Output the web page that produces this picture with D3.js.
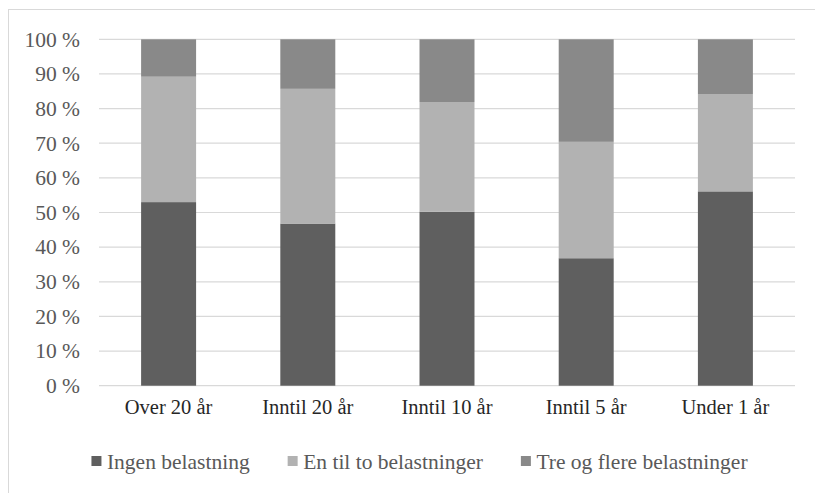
<!DOCTYPE html>
<html><head><meta charset="utf-8">
<script src="https://cdn.jsdelivr.net/npm/d3@7/dist/d3.min.js"></script>
<style>
html,body{margin:0;padding:0;background:#fff;}
svg{display:block;}
text{font-family:"Liberation Serif","Times New Roman",serif;}
</style></head>
<body>
<svg id="chart" width="815" height="493"></svg>
<script>
const categories = ["Over 20 år", "Inntil 20 år", "Inntil 10 år", "Inntil 5 år", "Under 1 år"];
const seriesNames = ["Ingen belastning", "En til to belastninger", "Tre og flere belastninger"];
const ingenBelastning = [53.0, 46.8, 50.2, 36.8, 56.1];
const enTilTo = [36.2, 38.9, 31.7, 33.6, 28.1];
const treOgFlere = [10.8, 14.3, 18.1, 29.6, 15.8];
const yTicks = [0, 10, 20, 30, 40, 50, 60, 70, 80, 90, 100];
const colors = ["#5f5f5f", "#b2b2b2", "#898989"];

const svg = d3.select("#chart");
const plotLeft = 99, plotRight = 795, plotTop = 39.3, plotBottom = 385.7;

// chart border (cropped by image)
svg.append("rect").attr("x", 8.5).attr("y", 9.5).attr("width", 900).attr("height", 600)
  .attr("fill", "none").attr("stroke", "#d9d9d9").attr("stroke-width", 1);

const x = d3.scaleBand().domain(categories).range([plotLeft, plotRight]).paddingInner(0.605).paddingOuter(0.3025);
const y = d3.scaleLinear().domain([0, 100]).range([plotBottom, plotTop]);

// gridlines
svg.append("g").selectAll("line").data(yTicks).join("line")
  .attr("x1", plotLeft).attr("x2", plotRight)
  .attr("y1", d => y(d)).attr("y2", d => y(d))
  .attr("stroke", "#d9d9d9").attr("stroke-width", 1.2);

// y labels
svg.append("g").selectAll("text").data(yTicks).join("text")
  .attr("x", 80).attr("y", d => y(d)).attr("dy", "0.34em")
  .attr("text-anchor", "end").attr("fill", "#595959").attr("font-size", 21.5)
  .text(d => d + " %");

// stacked data
const rows = categories.map((c, i) => ({cat: c, s0: ingenBelastning[i], s1: enTilTo[i], s2: treOgFlere[i]}));
const stack = d3.stack().keys(["s0", "s1", "s2"])(rows);

svg.append("g").selectAll("g").data(stack).join("g")
  .attr("fill", (d, i) => colors[i])
  .selectAll("rect").data(d => d).join("rect")
  .attr("x", d => x(d.data.cat))
  .attr("width", x.bandwidth())
  .attr("y", d => y(d[1]))
  .attr("height", d => y(d[0]) - y(d[1]));

// category labels
svg.append("g").selectAll("text").data(categories).join("text")
  .attr("x", d => x(d) + x.bandwidth() / 2).attr("y", 414.3)
  .attr("text-anchor", "middle").attr("fill", "#262626").attr("font-size", 20.5)
  .text(d => d);

// legend
const lg = svg.append("g");
const items = lg.selectAll("g").data(seriesNames).join("g");
items.append("rect").attr("width", 10).attr("height", 10).attr("y", 456)
  .attr("fill", (d, i) => colors[i]);
const texts = items.append("text").attr("y", 469).attr("fill", "#595959").attr("font-size", 21.5)
  .text(d => d);
const widths = [];
texts.each(function() { widths.push(this.getComputedTextLength()); });
const gap = 38, textOff = 15.5;
const total = d3.sum(widths) + seriesNames.length * textOff + gap * (seriesNames.length - 1);
let cx = 419.5 - total / 2;
items.each(function(d, i) {
  d3.select(this).attr("transform", `translate(${cx},0)`);
  d3.select(this).select("text").attr("x", textOff);
  cx += textOff + widths[i] + gap;
});
</script>
</body></html>
